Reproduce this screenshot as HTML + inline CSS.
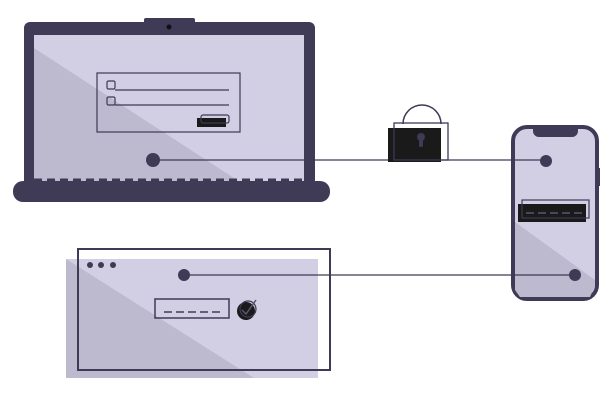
<!DOCTYPE html>
<html><head><style>html,body{margin:0;padding:0;background:#fff;width:612px;height:408px;overflow:hidden}</style></head>
<body>
<svg width="612" height="408" viewBox="0 0 612 408" xmlns="http://www.w3.org/2000/svg">
<!-- laptop -->
<rect x="144" y="18" width="51" height="8" rx="2" fill="#3f3a56"/>
<rect x="24" y="22" width="291" height="164" rx="6" fill="#3f3a56"/>
<rect x="34" y="35" width="270" height="147" fill="#d2cee4"/>
<polygon points="34,48 240,182 34,182" fill="#bdb9ce"/>
<circle cx="169" cy="27" r="2.5" fill="#111"/>
<rect x="13" y="181" width="317" height="21" rx="10" fill="#3f3a56"/>
<line x1="34" y1="180" x2="304" y2="180" stroke="#3f3a56" stroke-width="3" stroke-dasharray="8,5"/>
<rect x="97" y="73" width="143" height="59" fill="none" stroke="#3f3a56" stroke-width="1.2"/>
<rect x="107" y="81" width="8" height="8" rx="1.5" fill="none" stroke="#3f3a56" stroke-width="1.2"/>
<line x1="115" y1="90" x2="229" y2="90" stroke="#3f3a56" stroke-width="1.2"/>
<rect x="107" y="97" width="8" height="8" rx="1.5" fill="none" stroke="#3f3a56" stroke-width="1.2"/>
<line x1="115" y1="105" x2="229" y2="105" stroke="#3f3a56" stroke-width="1.2"/>
<rect x="197" y="118" width="29" height="9" fill="#1a1a1a"/>
<rect x="201" y="115" width="28" height="8" rx="2" fill="none" stroke="#3f3a56" stroke-width="1.2"/>
<!-- phone -->
<rect x="597" y="168" width="3" height="18" fill="#3f3a56"/>
<rect x="513" y="127" width="84" height="172" rx="14" fill="#d2cee4" stroke="#3f3a56" stroke-width="4"/>
<polygon points="515,222 595,280 595,285 590,297 520,297 515,290" fill="#bdb9ce"/>
<path d="M533,127 h45 v4 a6,6 0 0 1 -6,6 h-33 a6,6 0 0 1 -6,-6z" fill="#3f3a56"/>
<rect x="518" y="204" width="68" height="18" fill="#1a1a1a"/>
<rect x="522" y="200" width="67" height="18" fill="none" stroke="#3f3a56" stroke-width="1.2"/>
<line x1="526" y1="213" x2="584" y2="213" stroke="#5a5570" stroke-width="1.5" stroke-dasharray="8,4"/>
<!-- browser -->
<rect x="66" y="259" width="252" height="119" fill="#d2cee4"/>
<polygon points="66,259 254,378 66,378" fill="#bdb9ce"/>
<rect x="78" y="249" width="252" height="121" fill="none" stroke="#3f3a56" stroke-width="2"/>
<circle cx="90" cy="265" r="3" fill="#3f3a56"/>
<circle cx="101" cy="265" r="3" fill="#3f3a56"/>
<circle cx="113" cy="265" r="3" fill="#3f3a56"/>
<rect x="155" y="299" width="74" height="19" fill="none" stroke="#3f3a56" stroke-width="1.5"/>
<line x1="164" y1="312" x2="222" y2="312" stroke="#3f3a56" stroke-width="1.5" stroke-dasharray="8,4"/>
<circle cx="246" cy="311" r="9" fill="#1a1a1a"/>
<circle cx="248" cy="309" r="8" fill="none" stroke="#3f3a56" stroke-width="1.2"/>
<path d="M242,310 l4,4 l10,-14" fill="none" stroke="#5a5570" stroke-width="1.5"/>
<!-- connectors -->
<line x1="153" y1="160" x2="546" y2="160" stroke="#3f3a56" stroke-width="1.3"/>
<line x1="184" y1="275" x2="575" y2="275" stroke="#3f3a56" stroke-width="1.3"/>
<circle cx="153" cy="160" r="7" fill="#3f3a56"/>
<circle cx="546" cy="161" r="6" fill="#3f3a56"/>
<circle cx="184" cy="275" r="6" fill="#3f3a56"/>
<circle cx="575" cy="275" r="6" fill="#3f3a56"/>
<!-- lock -->
<path d="M403,124 A19,19 0 0 1 441,124" fill="none" stroke="#3f3a56" stroke-width="1.5"/>
<rect x="388" y="128" width="53" height="34" fill="#1a1a1a"/>
<rect x="394" y="123" width="54" height="37" fill="none" stroke="#3f3a56" stroke-width="1.3"/>
<circle cx="421" cy="137" r="4" fill="#3f3a56"/>
<rect x="419" y="137" width="4" height="10" rx="1.5" fill="#3f3a56"/>
</svg>
</body></html>
